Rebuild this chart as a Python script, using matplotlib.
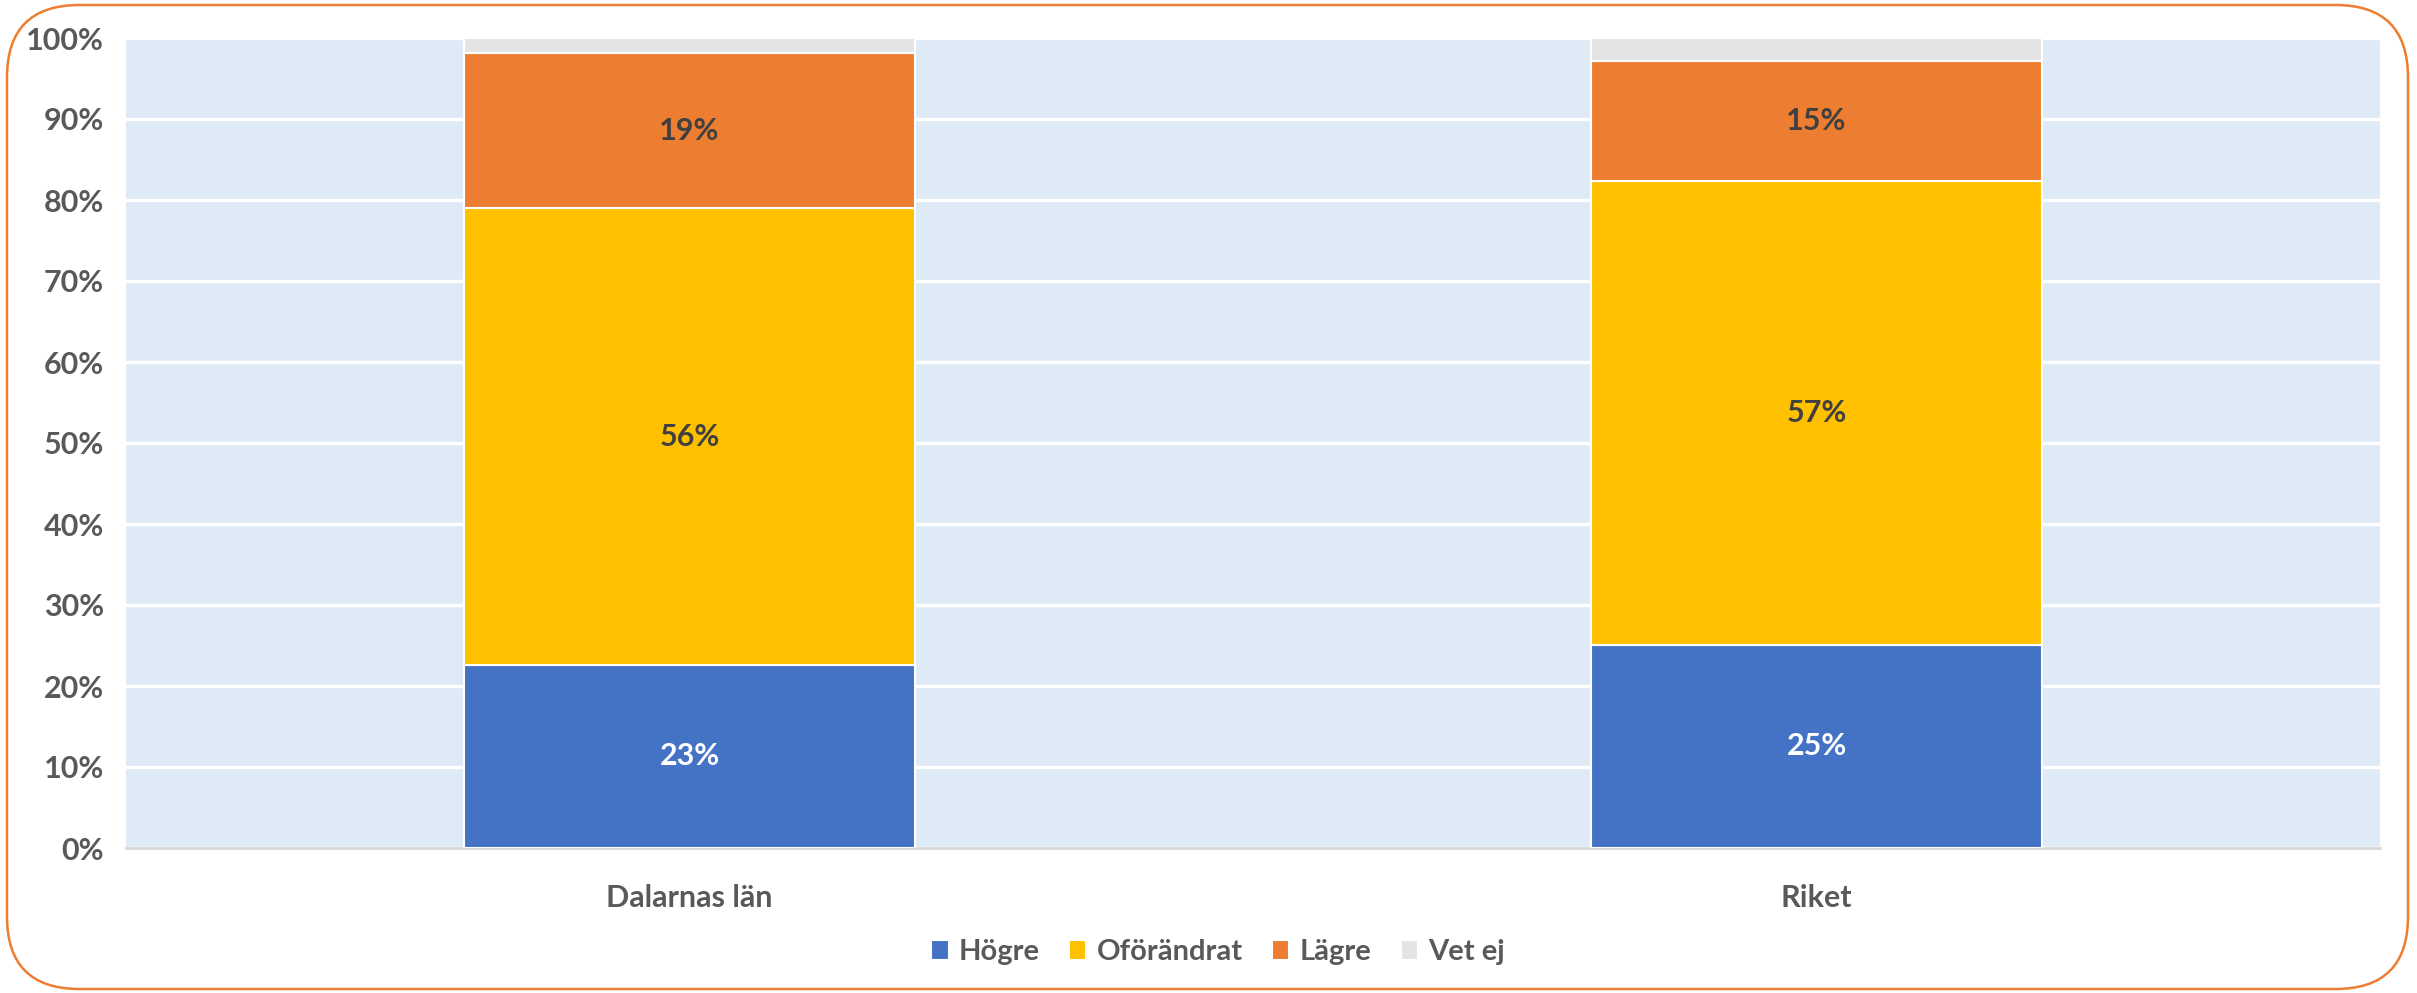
import matplotlib.pyplot as plt
from matplotlib.patches import FancyBboxPatch
import numpy as np

plt.rcParams['font.family'] = ['Lato', 'DejaVu Sans']

categories = ["Dalarnas län", "Riket"]
series = ["Högre", "Oförändrat", "Lägre", "Vet ej"]
hogre = [22.6, 25.1]
oforandrat = [56.4, 57.2]
lagre = [19.1, 14.8]
vet_ej = [1.9, 2.9]
colors = ["#4472C4", "#FFC000", "#ED7D31", "#E4E4E4"]
label_colors = ["white", "#404040", "#404040", None]

fig = plt.figure(figsize=(24.17, 9.93), dpi=100)
ax = fig.add_axes([126 / 2417, 1 - 848 / 993, 2254 / 2417, 810 / 993])
ax.set_facecolor("#DEEAF6")

x = np.arange(len(categories))
bottom = np.zeros(len(categories))
for name, vals, col, lc in zip(series, [hogre, oforandrat, lagre, vet_ej], colors, label_colors):
    vals = np.array(vals)
    ax.bar(x, vals, 0.4, bottom=bottom, color=col, edgecolor="white",
           linewidth=1.5, label=name, zorder=3)
    if lc is not None:
        for xi, b, v in zip(x, bottom, vals):
            ax.text(xi, b + v / 2, f"{v:.0f}%", ha="center", va="center",
                    fontsize=22, fontweight="bold", color=lc, zorder=4)
    bottom += vals

ax.set_xlim(-0.5, 1.5)
ax.set_ylim(0, 100)
ax.set_yticks(range(0, 101, 10))
ax.set_yticklabels([f"{t}%" for t in range(0, 101, 10)])
ax.set_xticks(x)
ax.set_xticklabels(categories)
ax.grid(axis="y", color="white", linewidth=2.5, zorder=1)
ax.set_axisbelow(True)
for s in ["top", "right", "left"]:
    ax.spines[s].set_visible(False)
ax.spines["bottom"].set_color("#D9D9D9")
ax.spines["bottom"].set_linewidth(2)
ax.tick_params(axis="both", length=0, labelsize=22, labelcolor="#595959")
ax.tick_params(axis="x", pad=26)
ax.tick_params(axis="y", pad=16)
for lab in ax.get_xticklabels() + ax.get_yticklabels():
    lab.set_fontweight("bold")

leg = fig.legend(loc="center", bbox_to_anchor=(1218 / 2417, 1 - 952 / 993), ncol=4,
                 frameon=False, fontsize=21, handlelength=0.6, handleheight=0.7,
                 columnspacing=1.0, handletextpad=0.35)
for t in leg.get_texts():
    t.set_color("#595959")
    t.set_fontweight("bold")

border = FancyBboxPatch((7 / 2417, 4 / 993), 2401 / 2417, 984 / 993,
                        boxstyle="round,pad=0,rounding_size=0.03",
                        transform=fig.transFigure, facecolor="none",
                        edgecolor="#ED7D31", linewidth=1.8, mutation_aspect=2417 / 993)
fig.patches.append(border)

fig.savefig("out.png", dpi=100, facecolor="white")
